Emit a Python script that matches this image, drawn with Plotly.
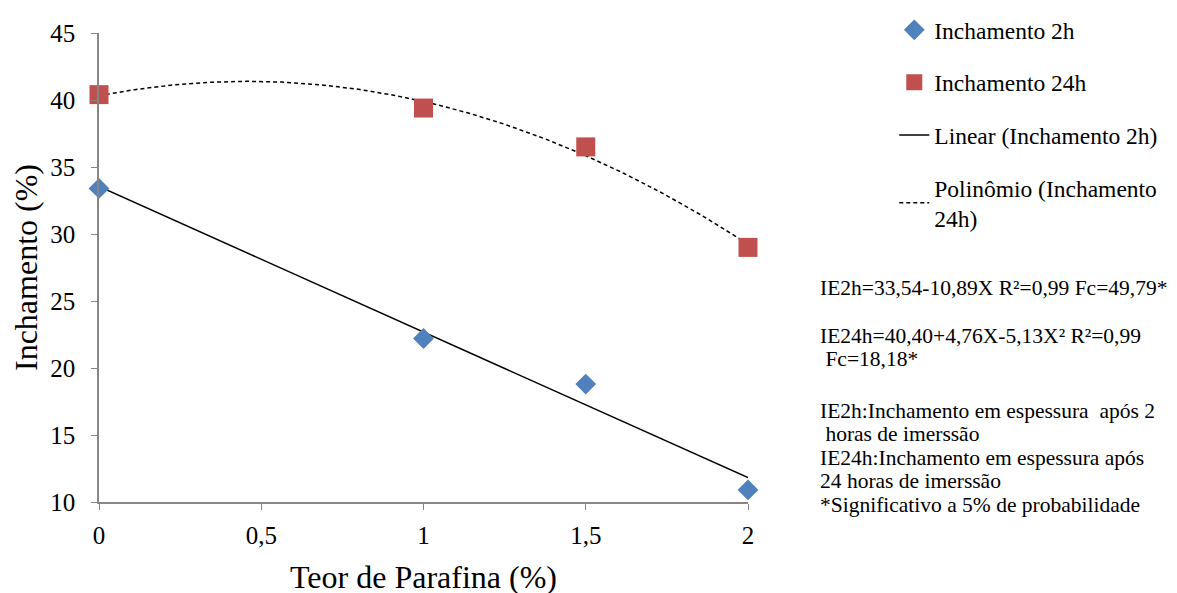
import numpy as np
import plotly.graph_objects as go

# Data
teor = [0, 1, 1.5, 2]
inch_2h = [33.4, 22.2, 18.8, 10.9]
inch_24h = [40.4, 39.4, 36.5, 29.0]
x_ticks = [0, 0.5, 1, 1.5, 2]
x_ticklabels = ["0", "0,5", "1", "1,5", "2"]
y_ticks = [10, 15, 20, 25, 30, 35, 40, 45]

note_lines = [
    "IE2h=33,54-10,89X R²=0,99 Fc=49,79*",
    "IE24h=40,40+4,76X-5,13X² R²=0,99",
    "\u00a0Fc=18,18*",
    "IE2h:Inchamento em espessura \u00a0após 2",
    "\u00a0horas de imerssão",
    "IE24h:Inchamento em espessura após",
    "24 horas de imerssão",
    "*Significativo a 5% de probabilidade",
]
note_ypix = [286, 335, 358, 411, 434, 458, 482, 506]

# Trendlines (fits of the data)
lin = np.polyfit(teor, inch_2h, 1)
poly = np.polyfit(teor, inch_24h, 2)
xs = np.linspace(0, 2, 200)

FONT = "Liberation Serif"
fig = go.Figure()

fig.add_trace(go.Scatter(
    x=xs, y=np.polyval(lin, xs), mode="lines", name="Linear (Inchamento 2h)",
    line=dict(color="black", width=1.5), legendgroup="c", legendrank=3, cliponaxis=False))
fig.add_trace(go.Scatter(
    x=xs, y=np.polyval(poly, xs), mode="lines", name="Polinômio (Inchamento<br>24h)",
    line=dict(color="black", width=1.5, dash="4px,3px"), legendgroup="d", legendrank=4,
    cliponaxis=False))
fig.add_trace(go.Scatter(
    x=teor, y=inch_2h, mode="markers", name="Inchamento 2h",
    marker=dict(symbol="diamond", size=16, color="#4F81BD"),
    cliponaxis=False, legendgroup="a", legendrank=1))
fig.add_trace(go.Scatter(
    x=teor, y=inch_24h, mode="markers", name="Inchamento 24h",
    marker=dict(symbol="square", size=19, color="#C0504D"),
    cliponaxis=False, legendgroup="b", legendrank=2))

fig.update_layout(
    width=1177, height=593,
    margin=dict(l=90, r=437, t=20, b=98),
    plot_bgcolor="white", paper_bgcolor="white",
    showlegend=True,
    legend=dict(
        xref="container", yref="paper", x=0.753, y=1.089,
        xanchor="left", yanchor="top",
        font=dict(family=FONT, size=23.5, color="black"),
        tracegroupgap=19, traceorder="grouped",
        bgcolor="rgba(0,0,0,0)"),
    xaxis=dict(
        range=[0, 2], tickvals=x_ticks, ticktext=x_ticklabels,
        showline=True, linecolor="#868686", linewidth=1.5,
        ticks="outside", ticklen=6, tickcolor="#868686",
        showgrid=False, zeroline=False, ticklabelstandoff=4,
        tickfont=dict(family=FONT, size=25, color="black"),
        title=dict(text="Teor de Parafina (%)", font=dict(family=FONT, size=32, color="black"), standoff=18)),
    yaxis=dict(
        range=[10, 45], tickvals=y_ticks,
        showline=True, linecolor="#868686", linewidth=1.5,
        ticks="outside", ticklen=6, tickcolor="#868686",
        showgrid=False, zeroline=False, ticklabelstandoff=11,
        tickfont=dict(family=FONT, size=25, color="black"),
        title=dict(text="Inchamento (%)", font=dict(family=FONT, size=32, color="black"), standoff=8)),
)

for text, ypix in zip(note_lines, note_ypix):
    fig.add_annotation(
        text=text, xref="paper", yref="paper",
        x=(818 - 98) / 650, y=1 - (ypix - 28) / 475,
        xanchor="left", yanchor="middle", align="left", showarrow=False,
        font=dict(family=FONT, size=21.5, color="black"))

fig.write_html("out.html")
